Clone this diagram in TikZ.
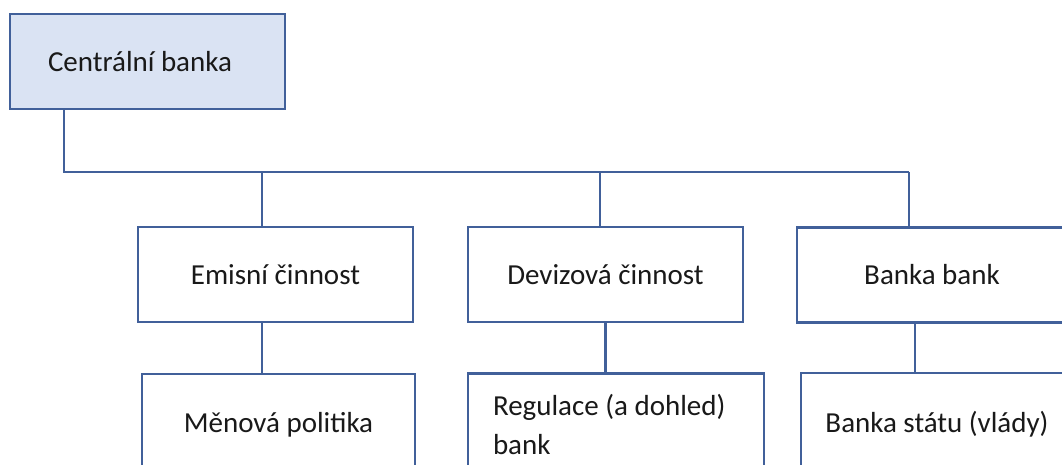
\documentclass[tikz,border=0pt]{standalone}
\usepackage{fontspec}
\setmainfont{Carlito}

\definecolor{linka}{HTML}{41609A}
\definecolor{vypln}{HTML}{DAE3F3}

\tikzset{
  krabice/.style={draw=linka, line width=1.3pt, fill=white, font=\fontsize{16.5}{22.5}\selectfont,
    text=black!90, inner sep=0pt, minimum width=5.5cm, minimum height=1.9cm},
  spoj/.style={draw=linka, line width=1.4pt}
}

\begin{document}
\begin{tikzpicture}[x=0.02cm, y=-0.02cm]
\useasboundingbox (0,0) rectangle (1062,465);
\clip (0,0) rectangle (1062,465);

% Hlavni uzel
\node[krabice, fill=vypln, text width=3.98cm, align=flush left] (cb) at (147.5,61.5) {Centrální banka};

% Druha rada
\node[krabice] (emis) at (275.5,274.5) {Emisní činnost};
\node[krabice] (deviz) at (605.5,274.5) {Devizová činnost};
\node[krabice, minimum width=5.4cm] (bb) at (932,275) {Banka bank};

% Treti rada
\node[krabice, minimum width=5.46cm, minimum height=2.04cm] (men) at (278.5,425) {Měnová politika};
\node[krabice, minimum width=5.92cm, minimum height=2.04cm, text width=4.92cm, align=flush left] (reg) at (616,424.5) {Regulace (a dohled)\\bank};
\node[krabice, minimum width=5.44cm, minimum height=2.04cm] (bs) at (937,424) {Banka státu (vlády)};

% Spojnice
\coordinate (j0) at (64,172);
\coordinate (j1) at (262,172);
\coordinate (j2) at (600,172);
\coordinate (j3) at (909,172);
\coordinate (k3) at (915,340);

\draw[spoj] (cb.south -| j0) -- (j0) -- (j3);
\draw[spoj] (j1) -- (j1 |- emis.north);
\draw[spoj] (j2) -- (j2 |- deviz.north);
\draw[spoj] (j3) -- (j3 |- bb.north);

\draw[spoj] (emis.south -| j1) -- (men.north -| j1);
\draw[spoj] (deviz.south) -- (deviz.south |- reg.north);
\draw[spoj] (bb.south -| k3) -- (bs.north -| k3);

\end{tikzpicture}
\end{document}
